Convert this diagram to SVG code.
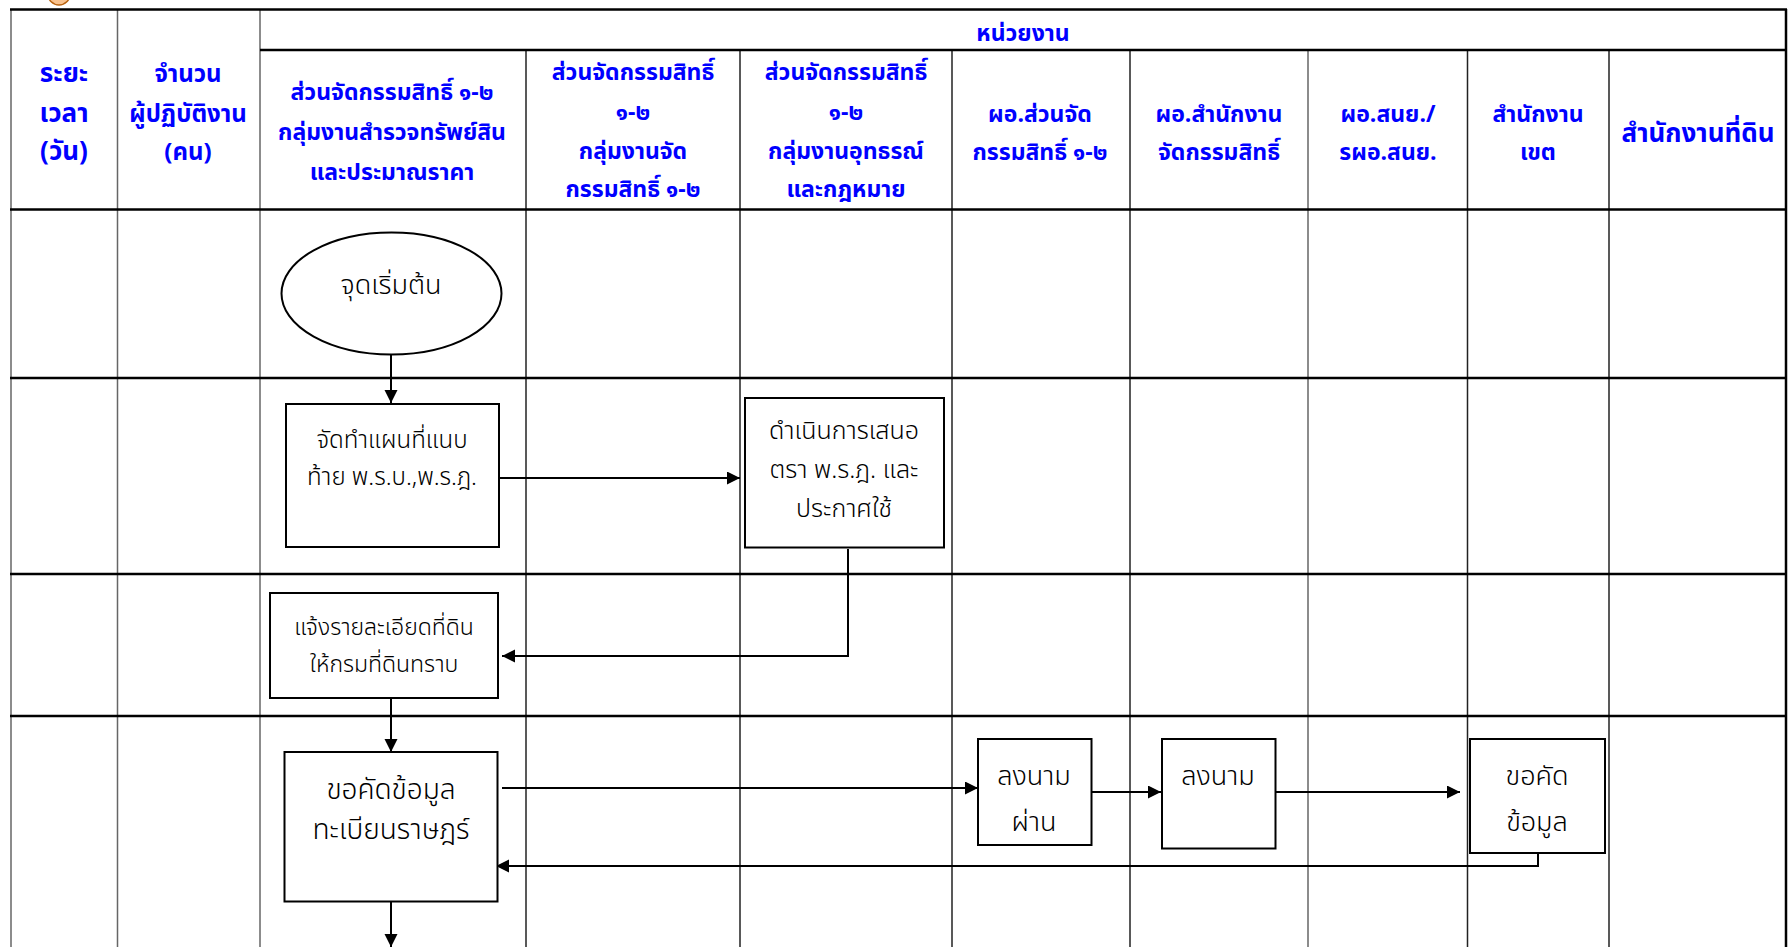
<svg xmlns="http://www.w3.org/2000/svg" width="1788" height="947" viewBox="0 0 1788 947">
<style>
.hl{stroke:#000;stroke-width:2.5;fill:none}
.vl{stroke:#222;stroke-width:1.5;fill:none}
.vg{stroke:#666;stroke-width:1.5;fill:none}
.hd{font-family:"Noto Sans Thai","Noto Sans","DejaVu Sans",sans-serif;font-weight:bold;font-size:23px;fill:#0000FF;text-anchor:middle}
.tx{font-family:"Noto Sans Thai","Noto Sans","DejaVu Sans",sans-serif;font-weight:300;font-size:25px;fill:#000;text-anchor:middle}
.shp{fill:#fff;stroke:#000;stroke-width:2}
.cn{stroke:#000;stroke-width:2;fill:none}
</style>
<defs>
<marker id="ah" markerWidth="14" markerHeight="14" refX="13" refY="6.5" orient="auto" markerUnits="userSpaceOnUse">
<path d="M0,0 L13,6.5 L0,13 Z" fill="#000"/>
</marker>
</defs>
<rect width="1788" height="947" fill="#fff"/>
<circle cx="59" cy="-6" r="11" fill="#F8C28E" stroke="#B8620F" stroke-width="1.5"/>
<g id="grid">
<line class="vg" x1="11" y1="9" x2="11" y2="947"/>
<line class="vg" x1="117.5" y1="9" x2="117.5" y2="947"/>
<line class="vg" x1="260" y1="9" x2="260" y2="947"/>
<line class="vl" x1="526" y1="50" x2="526" y2="947"/>
<line class="vl" x1="740" y1="50" x2="740" y2="947"/>
<line class="vl" x1="952" y1="50" x2="952" y2="947"/>
<line class="vl" x1="1130" y1="50" x2="1130" y2="947"/>
<line class="vg" x1="1308" y1="50" x2="1308" y2="947"/>
<line class="vl" x1="1467.5" y1="50" x2="1467.5" y2="947"/>
<line class="vl" x1="1609" y1="50" x2="1609" y2="947"/>
<line class="hl" x1="1786" y1="9" x2="1786" y2="947"/>
<line class="hl" x1="10" y1="9.5" x2="1787" y2="9.5"/>
<line class="hl" x1="260" y1="50" x2="1787" y2="50"/>
<line class="hl" x1="10" y1="209.5" x2="1787" y2="209.5"/>
<line class="hl" x1="10" y1="378" x2="1787" y2="378"/>
<line class="hl" x1="10" y1="574" x2="1787" y2="574"/>
<line class="hl" x1="10" y1="716" x2="1787" y2="716"/>
</g>
<g id="header">
<text class="hd" x="1023" y="41">หน่วยงาน</text>
<text class="hd" x="64" y="82" style="font-size:26px">ระยะ</text>
<text class="hd" x="64" y="122" style="font-size:26px">เวลา</text>
<text class="hd" x="64" y="160" style="font-size:26px">(วัน)</text>
<text class="hd" x="188" y="82" style="font-size:24px">จำนวน</text>
<text class="hd" x="188" y="122" style="font-size:24px">ผู้ปฏิบัติงาน</text>
<text class="hd" x="188" y="160" style="font-size:24px">(คน)</text>
<text class="hd" x="392" y="100">ส่วนจัดกรรมสิทธิ์ ๑-๒</text>
<text class="hd" x="392" y="140">กลุ่มงานสำรวจทรัพย์สิน</text>
<text class="hd" x="392" y="180">และประมาณราคา</text>
<text class="hd" x="633" y="80">ส่วนจัดกรรมสิทธิ์</text>
<text class="hd" x="633" y="120">๑-๒</text>
<text class="hd" x="633" y="159">กลุ่มงานจัด</text>
<text class="hd" x="633" y="197">กรรมสิทธิ์ ๑-๒</text>
<text class="hd" x="846" y="80">ส่วนจัดกรรมสิทธิ์</text>
<text class="hd" x="846" y="120">๑-๒</text>
<text class="hd" x="846" y="159">กลุ่มงานอุทธรณ์</text>
<text class="hd" x="846" y="197">และกฎหมาย</text>
<text class="hd" x="1040" y="122">ผอ.ส่วนจัด</text>
<text class="hd" x="1040" y="160">กรรมสิทธิ์ ๑-๒</text>
<text class="hd" x="1219" y="122">ผอ.สำนักงาน</text>
<text class="hd" x="1219" y="160">จัดกรรมสิทธิ์</text>
<text class="hd" x="1388" y="122">ผอ.สนย./</text>
<text class="hd" x="1388" y="160">รผอ.สนย.</text>
<text class="hd" x="1538" y="122">สำนักงาน</text>
<text class="hd" x="1538" y="160">เขต</text>
<text class="hd" x="1698" y="142" style="font-size:26px">สำนักงานที่ดิน</text>
</g>
<g id="connectors">
<line class="cn" x1="391" y1="354" x2="391" y2="403" marker-end="url(#ah)"/>
<line class="cn" x1="499" y1="478" x2="740" y2="478" marker-end="url(#ah)"/>
<polyline class="cn" points="848,549 848,656 502,656" marker-end="url(#ah)"/>
<line class="cn" x1="391" y1="698" x2="391" y2="752" marker-end="url(#ah)"/>
<line class="cn" x1="391" y1="902" x2="391" y2="947" marker-end="url(#ah)"/>
<line class="cn" x1="502" y1="788" x2="978" y2="788" marker-end="url(#ah)"/>
<line class="cn" x1="1092" y1="792" x2="1161" y2="792" marker-end="url(#ah)"/>
<line class="cn" x1="1276" y1="792" x2="1460" y2="792" marker-end="url(#ah)"/>
<polyline class="cn" points="1538,853 1538,866 496,866" marker-end="url(#ah)"/>
</g>
<g id="n-start">
<ellipse class="shp" cx="391.5" cy="293.5" rx="110" ry="61"/>
<text class="tx" x="391" y="294" style="font-size:27px">จุดเริ่มต้น</text>
</g>
<g id="n-map">
<rect class="shp" x="286" y="404" width="213" height="143"/>
<text class="tx" x="392" y="448" style="font-size:24px">จัดทำแผนที่แนบ</text>
<text class="tx" x="392" y="485" style="font-size:24px">ท้าย พ.ร.บ.,พ.ร.ฎ.</text>
</g>
<g id="n-propose">
<rect class="shp" x="745" y="398" width="199" height="149.5"/>
<text class="tx" x="844" y="439">ดำเนินการเสนอ</text>
<text class="tx" x="844" y="478">ตรา พ.ร.ฎ. และ</text>
<text class="tx" x="844" y="517">ประกาศใช้</text>
</g>
<g id="n-notify">
<rect class="shp" x="270" y="593" width="228" height="105"/>
<text class="tx" x="384" y="635" style="font-size:23px">แจ้งรายละเอียดที่ดิน</text>
<text class="tx" x="384" y="672" style="font-size:23px">ให้กรมที่ดินทราบ</text>
</g>
<g id="n-request">
<rect class="shp" x="284.5" y="752" width="213" height="149.5"/>
<text class="tx" x="391" y="799" style="font-size:28px">ขอคัดข้อมูล</text>
<text class="tx" x="391" y="839" style="font-size:28px">ทะเบียนราษฎร์</text>
</g>
<g id="n-sign1">
<rect class="shp" x="978" y="739" width="113.5" height="106"/>
<text class="tx" x="1034" y="785" style="font-size:27px">ลงนาม</text>
<text class="tx" x="1034" y="831" style="font-size:27px">ผ่าน</text>
</g>
<g id="n-sign2">
<rect class="shp" x="1162" y="739" width="113.5" height="109.5"/>
<text class="tx" x="1218" y="785" style="font-size:27px">ลงนาม</text>
</g>
<g id="n-copy">
<rect class="shp" x="1470" y="739" width="135" height="114"/>
<text class="tx" x="1537" y="785" style="font-size:27px">ขอคัด</text>
<text class="tx" x="1537" y="831" style="font-size:27px">ข้อมูล</text>
</g>
</svg>
